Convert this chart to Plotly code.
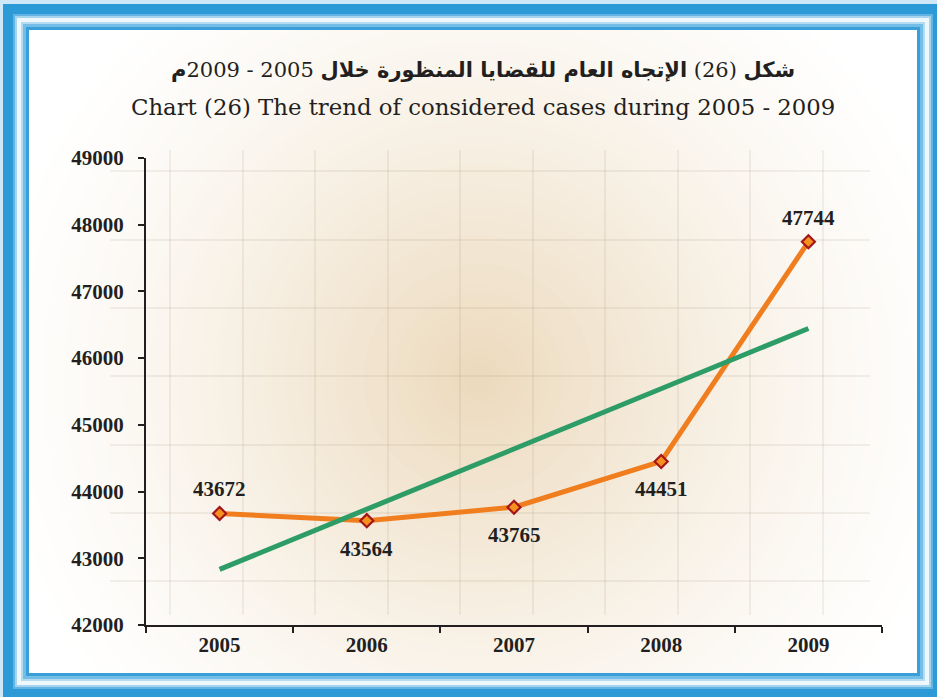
import plotly.graph_objects as go

# ---- data ----
years = ["2005", "2006", "2007", "2008", "2009"]
cases = [43672, 43564, 43765, 44451, 47744]
trend_years = ["2005", "2009"]
trend_values = [42833, 46445]
label_side = ["above", "below", "below", "below", "above"]

title_ar = "<b>شكل</b> (26) <b>الإتجاه العام للقضايا المنظورة خلال</b> 2005 - 2009<b>م</b>"
title_en = "Chart (26) The trend of considered cases during 2005 - 2009"

# ---- geometry helpers (pixel -> paper) ----
W_FIG, H_FIG = 937, 697
L, R, T, B = 146, 882, 158, 625
PW, PH = R - L, B - T


def px(x):
    return (x - L) / PW


def py(y):
    return (B - y) / PH


shapes = []

# radial beige glow (opaque rings, largest first)
cx, cy, RAD, N = 478, 378, 500, 70
beige = (222, 190, 140)
for k in range(N, 0, -1):
    r = RAD * k / N
    rm = RAD * (k - 0.5) / N
    a = 0.58 * (1 - rm / RAD) ** 1.35
    col = "rgb({},{},{})".format(*[round(255 + (c - 255) * a) for c in beige])
    shapes.append(dict(type="circle", xref="paper", yref="paper",
                       x0=px(cx - r), x1=px(cx + r), y0=py(cy + r), y1=py(cy - r),
                       fillcolor=col, line=dict(width=0), layer="below"))

# faint background grid
grid_col = "rgba(150,130,100,0.14)"
for gx in [170, 243, 315, 388, 460, 533, 605, 678, 750, 823]:
    shapes.append(dict(type="line", xref="paper", yref="paper",
                       x0=px(gx), x1=px(gx), y0=py(150), y1=py(615),
                       line=dict(color=grid_col, width=1.5), layer="below"))
for gy in [171, 240, 308, 376, 445, 513, 581]:
    shapes.append(dict(type="line", xref="paper", yref="paper",
                       x0=px(110), x1=px(870), y0=py(gy), y1=py(gy),
                       line=dict(color=grid_col, width=1.5), layer="below"))

# outer light margin
shapes.append(dict(type="rect", xref="paper", yref="paper",
                   x0=px(0), x1=px(W_FIG + 10), y0=py(H_FIG + 10), y1=py(0),
                   line=dict(color="#cfe8f7", width=8), fillcolor="rgba(0,0,0,0)",
                   layer="below"))
# blue frame bands
ox0, oy0, ox1, oy1 = 3, 4, 943, 699
bands = [(0, 10, "#2b9ad6"), (10, 12, "#62b4e2"), (12, 14, "#a6d4ef"),
         (14, 18, "#eef7fc"), (18, 20, "#b3dbf2"), (20, 23, "#74bde6"),
         (23, 26, "#3a9fd8")]
for t0, t1, col in bands:
    m = (t0 + t1) / 2
    shapes.append(dict(type="rect", xref="paper", yref="paper",
                       x0=px(ox0 + m), x1=px(ox1 - m), y0=py(oy1 - m), y1=py(oy0 + m),
                       line=dict(color=col, width=t1 - t0), fillcolor="rgba(0,0,0,0)",
                       layer="below"))

xi = list(range(len(years)))
trend_x = [years.index(y) for y in trend_years]

fig = go.Figure()

fig.add_trace(go.Scatter(
    x=xi, y=cases, mode="lines+markers",
    line=dict(color="#f07d1e", width=5),
    marker=dict(symbol="diamond", size=10, color="#f5901f",
                line=dict(color="#a3161a", width=2.2)),
    showlegend=False, hoverinfo="skip"))

fig.add_trace(go.Scatter(
    x=trend_x, y=trend_values, mode="lines",
    line=dict(color="#2d9c66", width=5),
    showlegend=False, hoverinfo="skip"))

annotations = []
lab_font = dict(family="Liberation Serif", size=21, color="#231f20")
for i, v, side in zip(xi, cases, label_side):
    annotations.append(dict(x=i, y=v, xref="x", yref="y", text=f"<b>{v}</b>",
                            showarrow=False, font=lab_font,
                            yshift=24 if side == "above" else -28))

annotations.append(dict(x=px(483), y=py(70), xref="paper", yref="paper",
                        text=title_ar, showarrow=False,
                        xanchor="center", yanchor="middle",
                        font=dict(family="DejaVu Serif, DejaVu Sans", size=21,
                                  color="#231f20")))
annotations.append(dict(x=px(483), y=py(107), xref="paper", yref="paper",
                        text=title_en, showarrow=False,
                        xanchor="center", yanchor="middle",
                        font=dict(family="DejaVu Serif", size=22.8,
                                  color="#231f20")))

axis_font = dict(family="Liberation Serif", size=21, color="#231f20")
bounds = [i - 0.5 for i in xi] + [xi[-1] + 0.5]

fig.update_layout(
    width=W_FIG, height=H_FIG, autosize=False,
    margin=dict(l=L, r=W_FIG - R, t=T, b=H_FIG - B, pad=0),
    paper_bgcolor="white", plot_bgcolor="rgba(0,0,0,0)",
    shapes=shapes, annotations=annotations,
    xaxis=dict(range=[bounds[0], bounds[-1]], tickmode="array",
               tickvals=xi, ticktext=[f"<b>{y}</b>" for y in years],
               ticks="", ticklabelstandoff=0,
               minor=dict(tickmode="array", tickvals=bounds, ticks="outside",
                          ticklen=6, tickwidth=1.5, tickcolor="#231f20",
                          showgrid=False),
               showline=True, linecolor="#231f20", linewidth=2,
               showgrid=False, zeroline=False, automargin=False,
               tickfont=axis_font),
    yaxis=dict(range=[42000, 49000], dtick=1000, tick0=42000, tickformat="d",
               ticks="outside", ticklen=6, tickwidth=1.5, tickcolor="#231f20",
               showline=True, linecolor="#231f20", linewidth=2,
               showgrid=False, zeroline=False, automargin=False,
               tickfont=axis_font, tickprefix="<b>", ticksuffix="</b>",
               ticklabelstandoff=10),
)

fig.write_html("out.html",
               config={"displayModeBar": False},
               post_script="document.body.style.margin='0';document.body.style.overflow='hidden';")
